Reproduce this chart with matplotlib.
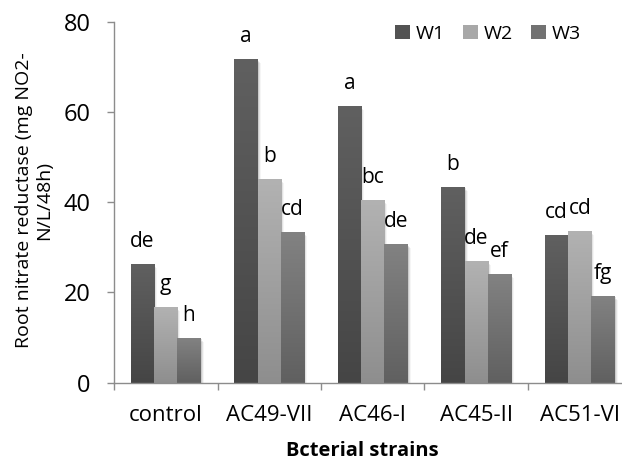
import numpy as np
import matplotlib
matplotlib.use("Agg")
import matplotlib.pyplot as plt
from matplotlib.colors import LinearSegmentedColormap
from matplotlib.patches import Patch, Rectangle

plt.rcParams['font.family'] = ['Open Sans', 'DejaVu Sans']

categories = ["control", "AC49-VII", "AC46-I", "AC45-II", "AC51-VI"]
series_names = ["W1", "W2", "W3"]
w1 = [26.3, 71.7, 61.3, 43.4, 32.7]
w2 = [16.8, 45.1, 40.5, 27.0, 33.6]
w3 = [9.9, 33.4, 30.7, 24.1, 19.2]
letters_w1 = ["de", "a", "a", "b", "cd"]
letters_w2 = ["g", "b", "bc", "de", "cd"]
letters_w3 = ["h", "cd", "de", "ef", "fg"]
yticks = [0, 20, 40, 60, 80]

series = [w1, w2, w3]
letters = [letters_w1, letters_w2, letters_w3]
# (top colour, bottom colour, legend colour)
colors = [("#606060", "#454545", "#535353"),
          ("#b2b2b2", "#8e8e8e", "#a8a8a8"),
          ("#828282", "#606060", "#727272")]

fig = plt.figure(figsize=(6.22, 4.62), dpi=100)
ax = fig.add_axes([114/622, 79.3/462, (631.5-114)/622, 361/462])

x = np.arange(len(categories))
bw = 0.225
grad = np.linspace(1, 0, 256).reshape(-1, 1)

for i, (vals, (ctop, cbot, _)) in enumerate(zip(series, colors)):
    cmap = LinearSegmentedColormap.from_list(f"g{i}", [cbot, ctop])
    pos = x + (i - 1) * bw
    bars = ax.bar(pos, vals, width=bw, color="none", edgecolor="none", zorder=3)
    for b, v in zip(bars, vals):
        x0 = b.get_x()
        # soft shadow on the right
        for k, a in enumerate([0.10, 0.07, 0.04]):
            sh = Rectangle((x0 + 0.01 * (k + 1), 0), bw, v - 0.3 * (k + 1),
                           facecolor="black", alpha=a, edgecolor="none", zorder=2)
            ax.add_patch(sh)
        im = ax.imshow(grad, extent=[x0, x0 + bw, 0, v],
                       aspect="auto", cmap=cmap, origin="upper", vmin=0, vmax=1, zorder=3)
        im.set_clip_path(b)
    for p, v, t in zip(pos, vals, letters[i]):
        ax.annotate(t, (p, v), xytext=(0, 16), textcoords="offset points",
                    ha="center", va="center", fontsize=15, color="black", zorder=5)

ax.set_xlim(-0.5, 4.5)
ax.set_ylim(0, 80)
ax.set_yticks(yticks)
ax.set_yticklabels([str(t) for t in yticks], fontsize=17)
ax.set_xticks(x)
ax.set_xticklabels(categories, fontsize=16)
ax.set_xticks(np.arange(-0.5, 4.6, 1), minor=True)
ax.tick_params(axis="x", which="major", length=0, pad=16)
ax.tick_params(axis="x", which="minor", length=5, color="#8c8c8c", width=1)
ax.tick_params(axis="y", length=5, color="#8c8c8c", width=1, pad=12)
for s in ["top", "right"]:
    ax.spines[s].set_visible(False)
for s in ["left", "bottom"]:
    ax.spines[s].set_color("#8c8c8c")
    ax.spines[s].set_linewidth(1)
ax.spines["bottom"].set_zorder(6)

fig.text(34/622, 1 - 200/462, "Root nitrate reductase (mg NO2-\nN/L/48h)",
         rotation=90, ha="center", va="center", fontsize=14, linespacing=1.2,
         multialignment="center")
fig.text(362/622, 1 - 451/462, "Bcterial strains", ha="center", va="center",
         fontsize=14.5, fontweight="bold")

handles = [Patch(facecolor=c[2], edgecolor="none") for c in colors]
fig.legend(handles, series_names, loc="center left", bbox_to_anchor=(395/622, 1 - 34/462),
           ncol=3, frameon=False, fontsize=14, handlelength=0.75, handleheight=0.75,
           handletextpad=0.3, columnspacing=0.95, borderaxespad=0, borderpad=0)

fig.savefig("out.png", dpi=100)
